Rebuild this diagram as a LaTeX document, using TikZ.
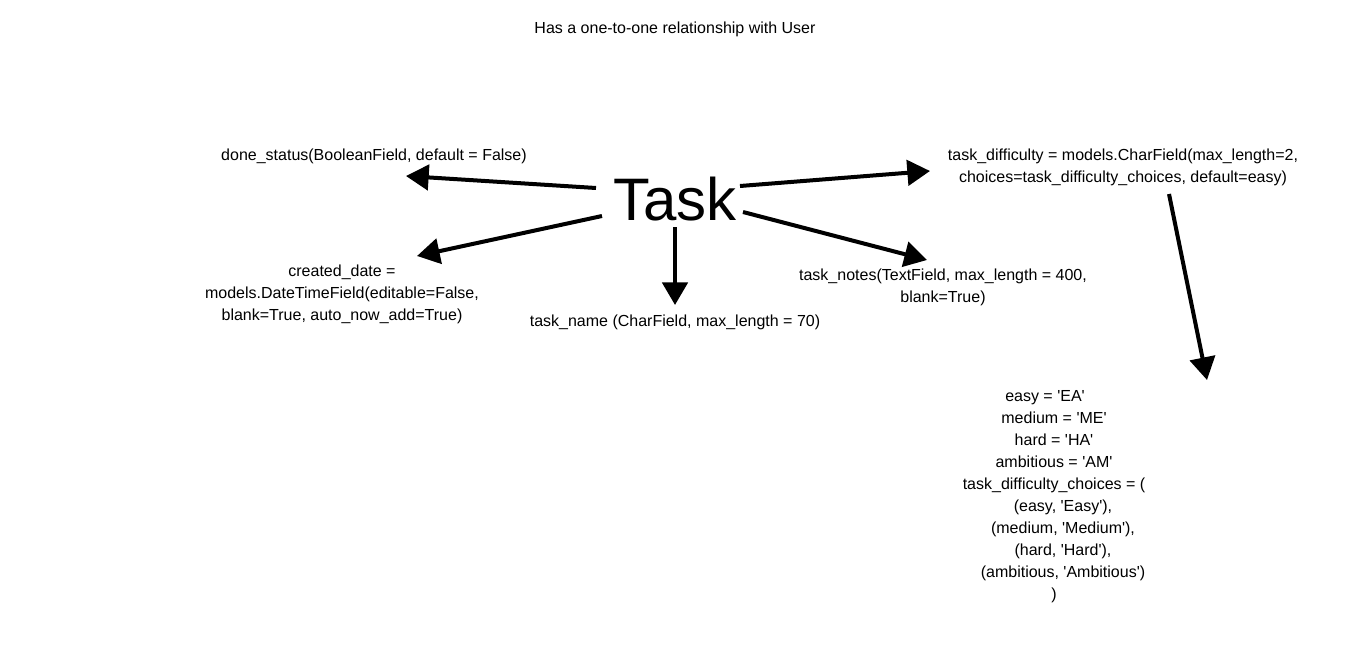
\documentclass[tikz,border=0pt]{standalone}
\usepackage{fontspec}
\setmainfont{Liberation Sans}
\usetikzlibrary{arrows.meta}
\newcommand\sq{\textquotesingle}
\newcommand\padbox{\hbox to 13.5pt{}}
\begin{document}
\begin{tikzpicture}[x=0.75pt,y=-0.75pt,
  lbl/.style={inner sep=0pt,align=center,font=\fontsize{12}{16.5}\selectfont},
  conn/.style={line width=3pt,-{Triangle[length=17pt,width=19pt]}}]
\useasboundingbox (0,0) rectangle (1350,650);
\node[lbl] (title) at (675,29) {Has a one-to-one relationship with User};
\node[inner sep=0pt,font=\fontsize{45}{48}\selectfont] (task) at (675,199) {Task};
\node[lbl] (done) at (374,156) {done\_status(BooleanField, default = False)};
\node[lbl] (diff) at (1123,167) {task\_difficulty = models.CharField(max\_length=2,\\choices=task\_difficulty\_choices, default=easy)};
\node[lbl] (created) at (342,294) {created\_date =\\models.DateTimeField(editable=False,\\blank=True, auto\_now\_add=True)};
\node[lbl] (name) at (675,322) {task\_name (CharField, max\_length = 70)};
\node[lbl] (notes) at (943,287) {task\_notes(TextField, max\_length = 400,\\blank=True)};
\node[lbl] (choices) at (1054,497) {easy = \sq EA\sq\padbox\\medium = \sq ME\sq\\hard = \sq HA\sq\\ambitious = \sq AM\sq\\task\_difficulty\_choices = (\\\padbox(easy, \sq Easy\sq),\\\padbox(medium, \sq Medium\sq),\\\padbox(hard, \sq Hard\sq),\\\padbox(ambitious, \sq Ambitious\sq)\\)};
\coordinate (s1) at (596,188); \coordinate (e1) at (406,176);
\coordinate (s2) at (602,216); \coordinate (e2) at (417,256);
\coordinate (s3) at (675,227); \coordinate (e3) at (675,305);
\coordinate (s4) at (743,212); \coordinate (e4) at (927,260);
\coordinate (s5) at (740,186); \coordinate (e5) at (930,171);
\coordinate (s6) at (1169,194); \coordinate (e6) at (1207,380);
\draw[conn] (s1) -- (e1);
\draw[conn] (s2) -- (e2);
\draw[conn] (s3) -- (e3);
\draw[conn] (s4) -- (e4);
\draw[conn] (s5) -- (e5);
\draw[conn] (s6) -- (e6);
\end{tikzpicture}
\end{document}
